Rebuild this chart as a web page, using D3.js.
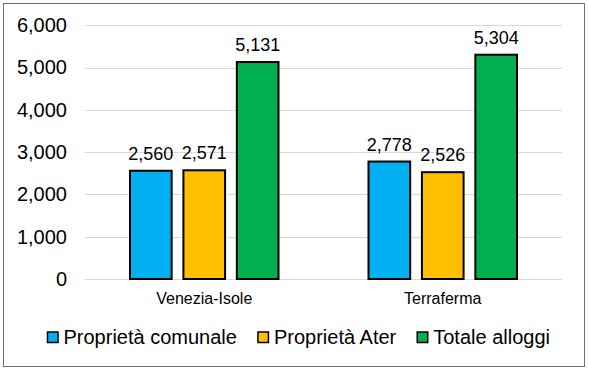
<!DOCTYPE html>
<html>
<head>
<meta charset="utf-8">
<script src="https://cdn.jsdelivr.net/npm/d3@7"></script>
<style>
  body { margin: 0; background: #fff; }
  text { font-family: "Liberation Sans", Arial, sans-serif; fill: #000; }
</style>
</head>
<body>
<svg id="chart" width="589" height="371"></svg>
<script>
const categories = ["Venezia-Isole", "Terraferma"];
const series = ["Proprietà comunale", "Proprietà Ater", "Totale alloggi"];
const comunale = [2560, 2778];
const ater = [2571, 2526];
const totale = [5131, 5304];
const yTicks = [0, 1000, 2000, 3000, 4000, 5000, 6000];
const colors = ["#00B0F0", "#FFC000", "#00B050"];

const values = [comunale, ater, totale];
const data = categories.map((c, i) => ({
    cat: c,
    vals: series.map((s, j) => ({ key: s, value: values[j][i], color: colors[j] }))
}));

const svg = d3.select("#chart");

// outer frame
svg.append("rect")
    .attr("x", 3.5).attr("y", 3.5)
    .attr("width", 581).attr("height", 363)
    .attr("fill", "#fff")
    .attr("stroke", "#6e6e6e")
    .attr("stroke-width", 1);

const plot = { left: 85, right: 562, top: 25.3, bottom: 279 };

const x0 = d3.scaleBand()
    .domain(categories)
    .range([plot.left, plot.right]);

const x1 = d3.scaleBand()
    .domain(series)
    .range([45, x0.bandwidth() - 45])
    .paddingInner(0.22);

const y = d3.scaleLinear()
    .domain([0, 6000])
    .range([plot.bottom, plot.top]);

// gridlines
svg.append("g")
    .selectAll("line")
    .data(yTicks)
    .join("line")
    .attr("x1", plot.left).attr("x2", plot.right)
    .attr("y1", d => Math.round(y(d)) + 0.5)
    .attr("y2", d => Math.round(y(d)) + 0.5)
    .attr("stroke", "#d9d9d9")
    .attr("stroke-width", 1);

// y axis labels
const yAxis = svg.append("g")
    .attr("transform", `translate(${plot.left},0)`)
    .call(d3.axisLeft(y).tickValues(yTicks).tickFormat(d3.format(",")).tickSize(0).tickPadding(18));
yAxis.select(".domain").remove();
yAxis.selectAll("text")
    .attr("font-size", 20)
    .attr("font-family", "Liberation Sans, Arial, sans-serif")
    .attr("fill", "#000");

// bars
const groups = svg.append("g")
    .selectAll("g")
    .data(data)
    .join("g")
    .attr("transform", d => `translate(${x0(d.cat)},0)`);

groups.selectAll("rect")
    .data(d => d.vals)
    .join("rect")
    .attr("x", d => x1(d.key))
    .attr("y", d => y(d.value))
    .attr("width", x1.bandwidth())
    .attr("height", d => y(0) - y(d.value))
    .attr("fill", d => d.color)
    .attr("stroke", "#000")
    .attr("stroke-width", 2);

groups.selectAll("text.val")
    .data(d => d.vals)
    .join("text")
    .attr("class", "val")
    .attr("x", d => x1(d.key) + x1.bandwidth() / 2)
    .attr("y", d => y(d.value) - 11)
    .attr("text-anchor", "middle")
    .attr("font-size", 18)
    .text(d => d3.format(",")(d.value));

// category labels
svg.append("g")
    .selectAll("text")
    .data(categories)
    .join("text")
    .attr("x", d => x0(d) + x0.bandwidth() / 2)
    .attr("y", 304)
    .attr("text-anchor", "middle")
    .attr("font-size", 16)
    .text(d => d);

// legend
const legend = svg.append("g");
let lx = 47.5;
series.forEach((s, i) => {
    legend.append("rect")
        .attr("x", lx).attr("y", 332)
        .attr("width", 10.5).attr("height", 10.5)
        .attr("fill", colors[i])
        .attr("stroke", "#000")
        .attr("stroke-width", 1.5);
    const t = legend.append("text")
        .attr("x", lx + 16)
        .attr("y", 344)
        .attr("font-size", 20)
        .text(s);
    lx += 16 + t.node().getComputedTextLength() + 21;
});
</script>
</body>
</html>
